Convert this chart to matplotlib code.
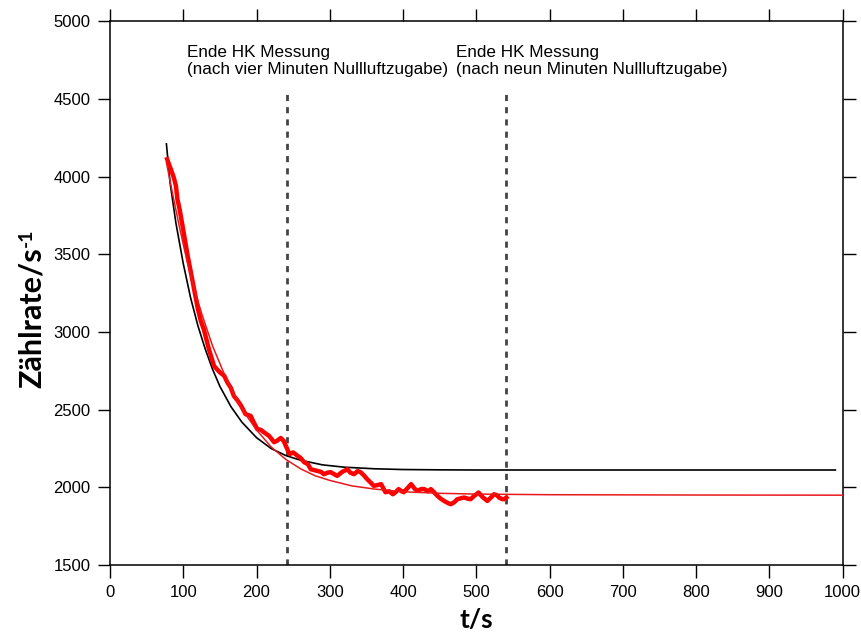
import matplotlib.pyplot as plt
import numpy as np

# fitted curve, first model (black)
fit1_t = [77, 82, 90, 100, 110, 120, 130, 140, 150, 165, 180, 200, 220, 240, 260,
          290, 320, 360, 400, 450, 500, 600, 800, 990]
fit1_y = [4210, 3960, 3700, 3440, 3220, 3040, 2890, 2760, 2650, 2520, 2420, 2320,
          2250, 2205, 2175, 2145, 2130, 2120, 2115, 2113, 2112, 2112, 2112, 2112]

# fitted curve, second model (thin red)
fit2_t = [77, 85, 95, 105, 115, 125, 140, 155, 170, 185, 200, 220, 240, 260, 280,
          300, 330, 360, 400, 450, 500, 600, 800, 1000]
fit2_y = [4090, 3900, 3670, 3460, 3280, 3120, 2910, 2740, 2590, 2470, 2370, 2260,
          2180, 2120, 2075, 2045, 2010, 1990, 1972, 1962, 1957, 1953, 1951, 1950]

# measured count rate
meas_t = [78, 80, 83, 87, 90, 92, 95, 99, 106, 113, 120, 124, 128, 135, 142, 146,
          150, 156, 160, 165, 169, 174, 179, 185, 192, 196, 201, 206, 210, 217,
          224, 228, 233, 237, 240, 245, 250, 256, 260, 265, 270, 274, 283, 288,
          292, 297, 301, 306, 310, 317, 324, 328, 333, 338, 342, 347, 351, 356,
          360, 365, 370, 376, 381, 386, 390, 394, 398, 401, 406, 411, 416, 420,
          425, 429, 434, 438, 443, 447, 452, 456, 461, 465, 470, 474, 479, 483,
          488, 492, 497, 503, 508, 515, 520, 524, 528, 531, 535, 538, 541]
meas_y = [4112, 4085, 4048, 3995, 3940, 3855, 3790, 3683, 3490, 3320, 3147, 3070,
          3018, 2889, 2782, 2760, 2740, 2718, 2677, 2640, 2589, 2560, 2525, 2471,
          2460, 2420, 2375, 2370, 2355, 2332, 2291, 2300, 2318, 2300, 2267, 2214,
          2225, 2203, 2190, 2162, 2150, 2117, 2106, 2100, 2085, 2095, 2098, 2085,
          2074, 2100, 2117, 2095, 2085, 2105, 2098, 2075, 2053, 2030, 2010, 2015,
          2021, 1969, 1975, 1956, 1970, 1989, 1975, 1969, 1995, 2021, 1990, 1978,
          1990, 1989, 1975, 1989, 1965, 1945, 1925, 1913, 1900, 1892, 1905, 1924,
          1930, 1935, 1928, 1924, 1945, 1967, 1940, 1913, 1935, 1956, 1950, 1935,
          1925, 1924, 1935]

marker_t = [242, 541]
marker_txt = ["Ende HK Messung\n(nach vier Minuten Nullluftzugabe)",
              "Ende HK Messung\n(nach neun Minuten Nullluftzugabe)"]
marker_txt_t = [105, 472]

plt.rcParams['font.family'] = ['Liberation Sans', 'DejaVu Sans']

fig = plt.figure(figsize=(8.62, 6.4), dpi=100)
ax = fig.add_axes([0.1276, 0.117, 0.850, 0.850])

for t in marker_t:
    ax.plot([t, t], [1500, 4530], color='#444444', lw=2.0, ls=(0, (2.2, 2.2)), zorder=1)
for t, s in zip(marker_txt_t, marker_txt):
    ax.text(t, 4845, s, fontsize=12.3, va='top', ha='left', linespacing=1.12)

ax.plot(fit1_t, fit1_y, color='black', lw=1.2, zorder=3)
ax.plot(meas_t, meas_y, color='#ff0000', lw=3.2, solid_joinstyle='round', zorder=4)
ax.plot(fit2_t, fit2_y, color='#e8191d', lw=1.1, zorder=5)

ax.set_xlim(0, 1000)
ax.set_ylim(1500, 5000)
ax.set_xticks(np.arange(0, 1001, 100))
ax.set_yticks(np.arange(1500, 5001, 500))
ax.tick_params(direction='out', length=9, width=1.0, labelsize=12,
               top=True, right=True, labeltop=False, labelright=False, pad=5)
for sp in ax.spines.values():
    sp.set_linewidth(1.1)

ax.set_xlabel('t/s', fontsize=19, fontweight='bold', family='Lato', labelpad=6)
ax.set_ylabel('Zählrate/s', fontsize=22, fontweight='bold', family='Lato')
ax.yaxis.set_label_coords(-0.088, 0.455)

# superscript -1 after the y label
fig.canvas.draw()
bb = ax.yaxis.label.get_window_extent()
fig.text(bb.x0 / fig.bbox.width, bb.y1 / fig.bbox.height, '-1', rotation=90,
         ha='left', va='bottom', fontsize=14, fontweight='bold', family='Lato')

fig.savefig('out.png', dpi=100)
